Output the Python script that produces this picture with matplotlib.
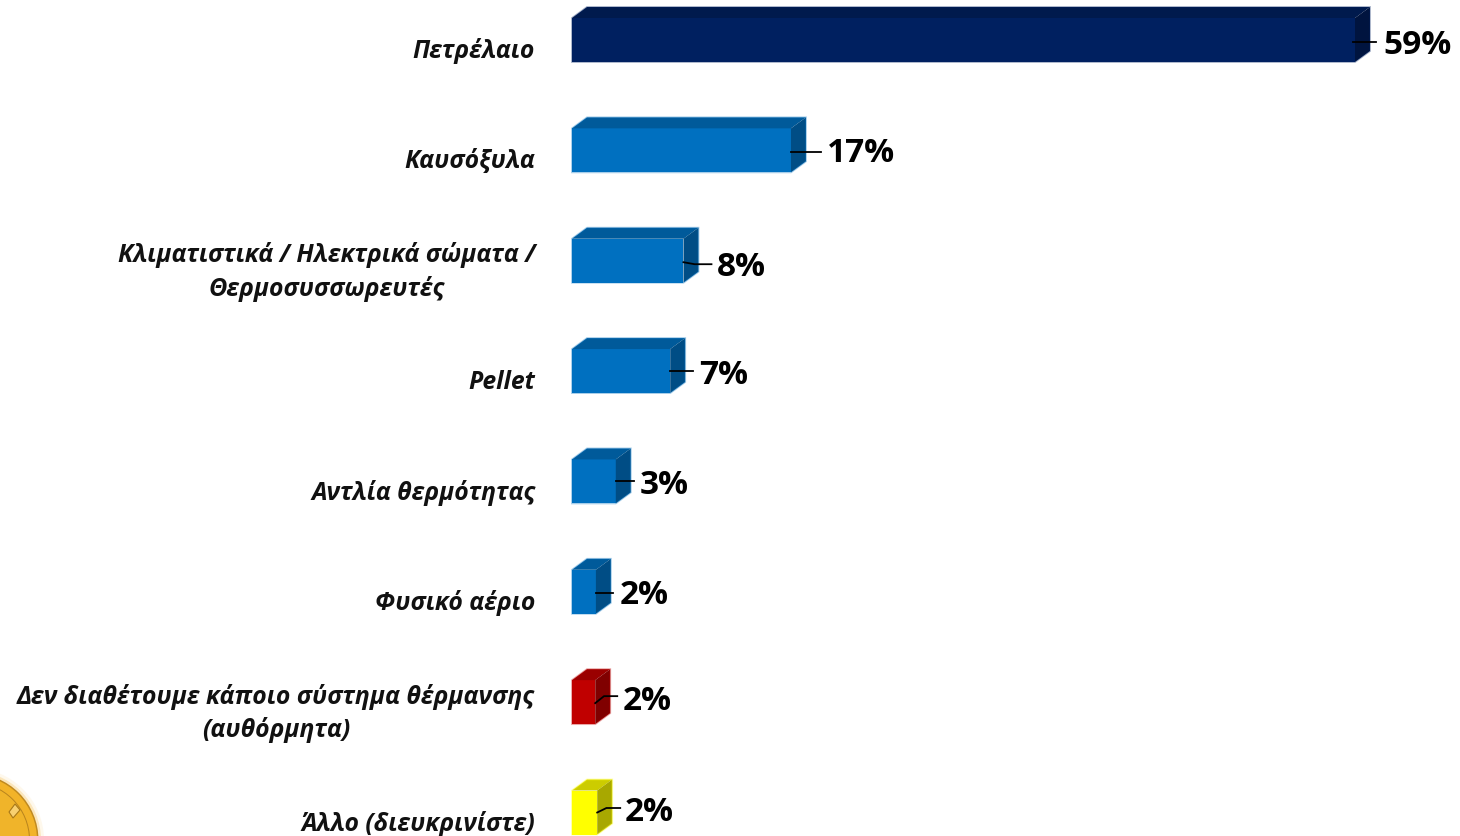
import matplotlib
matplotlib.use("Agg")
import matplotlib.pyplot as plt
from matplotlib.patches import Polygon, Circle

categories = [
    "Πετρέλαιο",
    "Καυσόξυλα",
    "Κλιματιστικά / Ηλεκτρικά σώματα /\nΘερμοσυσσωρευτές",
    "Pellet",
    "Αντλία θερμότητας",
    "Φυσικό αέριο",
    "Δεν διαθέτουμε κάποιο σύστημα θέρμανσης\n(αυθόρμητα)",
    "Άλλο (διευκρινίστε)",
]
# bar lengths as drawn, the printed labels are rounded
values = [59, 16.5, 8.4, 7.4, 3.3, 1.8, 1.75, 1.9]
labels = ["59%", "17%", "8%", "7%", "3%", "2%", "2%", "2%"]

front_colors = ["#002060", "#0070C0", "#0070C0", "#0070C0", "#0070C0", "#0070C0", "#C00000", "#FFFF00"]
top_colors = ["#001A4D", "#005A9A", "#005A9A", "#005A9A", "#005A9A", "#005A9A", "#9A0000", "#CCCC00"]
side_colors = ["#00143F", "#004D85", "#004D85", "#004D85", "#004D85", "#004D85", "#800000", "#A8A800"]

# leader lines and labels relative to the bar end, in pixels (y down)
leader_x0 = [-2, 0, 0, 0, 0, 0, 0, 0]
leader_x1 = [21, 30, 28, 23, 18, 17, 22, 23]
leader_y0 = [2, 2, 1.5, 0, -0.5, 1, 1, 0]
leader_y1 = [2, 2, 3.5, 0, -0.5, 1, -6, -4.5]
label_dx = [28, 36, 33, 29, 24, 24, 27, 27]
label_dy = [-3, 0, -4, -1, -1, -1, 4, 3]

DPI = 100
W, H = 1460, 836
DEPTH_X, DEPTH_Y = 15, 11

plt.rcParams["font.family"] = ["Open Sans", "DejaVu Sans"]

fig = plt.figure(figsize=(W / DPI, H / DPI), dpi=DPI)
# axes runs from the start of the bars to the end of the longest one,
# and from the centre of the first bar to the centre of the last
ax = fig.add_axes([572 / W, 1 - 812.5 / H, (1355 - 572) / W, (812.5 - 40) / H])
ax.set_xlim(0, 59)
ax.set_ylim(len(values) - 1, 0)
ax.axis("off")

px_x = 59 / (1355 - 572)
px_y = (len(values) - 1) / (812.5 - 40)
half = 22 * px_y
dx = DEPTH_X * px_x
dy = DEPTH_Y * px_y

for i, v in enumerate(values):
    top, bottom = i - half, i + half
    ax.barh(i, v, height=2 * half, color=front_colors[i], linewidth=0, clip_on=False)
    ax.add_patch(Polygon([(0, top), (dx, top - dy), (v + dx, top - dy), (v, top)],
                         facecolor=top_colors[i], edgecolor="none", clip_on=False))
    ax.add_patch(Polygon([(v, top), (v + dx, top - dy), (v + dx, bottom - dy), (v, bottom)],
                         facecolor=side_colors[i], edgecolor="none", clip_on=False))
    # soft outline round the whole block
    ax.add_patch(Polygon([(0, bottom), (0, top), (dx, top - dy), (v + dx, top - dy), (v + dx, bottom - dy), (v, bottom)],
                         facecolor="none", edgecolor=front_colors[i], alpha=0.35, linewidth=1.3, clip_on=False))

    knee = v + leader_x1[i] * px_x * 0.4
    ax.plot([v + leader_x0[i] * px_x, knee, v + leader_x1[i] * px_x],
            [i + leader_y0[i] * px_y, i + leader_y1[i] * px_y, i + leader_y1[i] * px_y],
            color="black", lw=1.3, clip_on=False, zorder=5)
    ax.annotate(labels[i], xy=(v, i), xytext=(label_dx[i] * 0.72, (label_dy[i] - 3) * 0.72),
                textcoords="offset points", ha="left", va="center",
                fontsize=24, fontweight="bold", color="black", annotation_clip=False)

    ax.annotate(categories[i], xy=(0, i), xytext=(-37 * 0.72, -11.5 * 0.72),
                textcoords="offset points", ha="right", va="center", multialignment="center",
                fontsize=17.8, fontweight="bold", fontstyle="italic", color="#111111",
                linespacing=1.38, annotation_clip=False)

# corner of the coin in the bottom left
bg = fig.add_axes([0, 0, 1, 1], zorder=-1)
bg.set_xlim(0, W)
bg.set_ylim(H, 0)
bg.axis("off")
for r, c in [(72, "#FEF8EC"), (69, "#FBE6BC"), (66.5, "#C08A20"), (65, "#F2B328"), (58, "#B8841E"), (57, "#F0B42A")]:
    bg.add_patch(Circle((-28, 840), r, facecolor=c, edgecolor="none"))
bg.add_patch(Polygon([(15, 804), (20, 810), (13, 818), (9, 812)], facecolor="#F8D070", edgecolor="#A87818", lw=0.8))

fig.savefig("out.png", dpi=DPI)
